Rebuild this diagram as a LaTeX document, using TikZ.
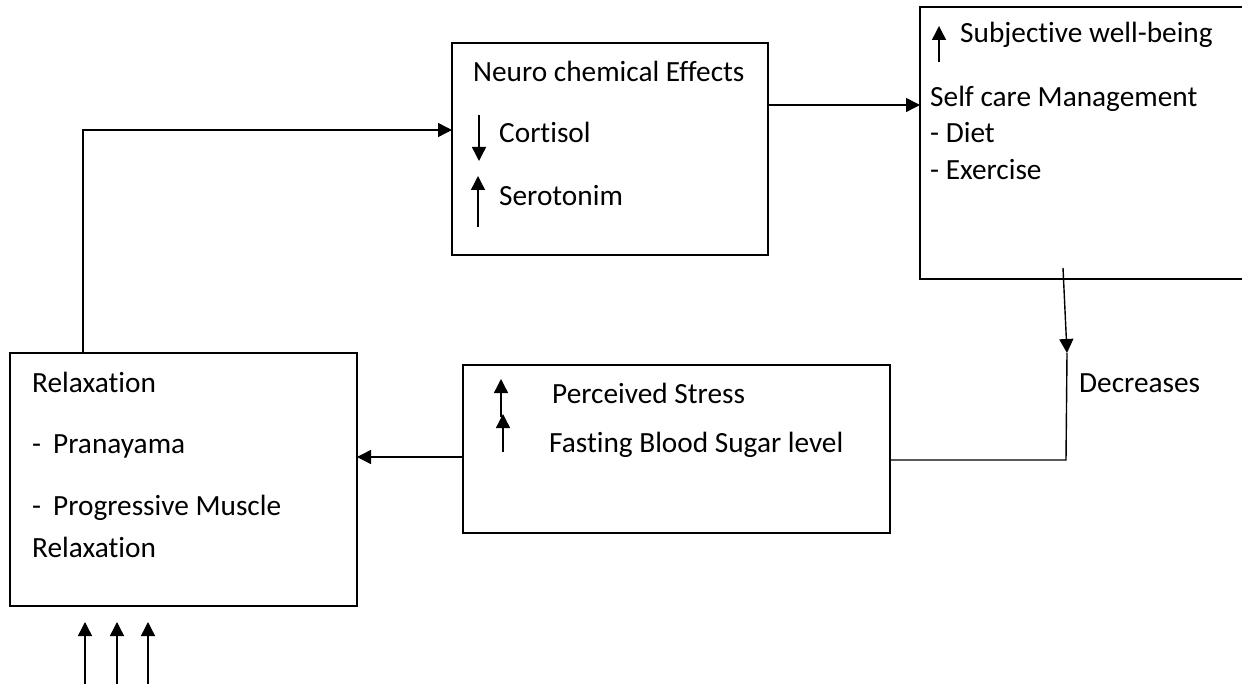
\documentclass[tikz,border=0pt]{standalone}
\usepackage{fontspec}
\setmainfont{Carlito}[Ligatures={NoCommon}]
\usetikzlibrary{arrows.meta}
\begin{document}
\begin{tikzpicture}[x=1pt,y=-1pt,
  box/.style={draw, line width=1.8pt, inner sep=0pt, outer sep=0pt, anchor=north west},
  conn/.style={line width=1.4pt},
  arr/.style={conn, -{Triangle[length=14pt,width=14pt]}},
  lbl/.style={anchor=base west, inner sep=0pt, font=\fontsize{29.3}{35}\selectfont}]
\useasboundingbox (0,0) rectangle (1242,684);

% boxes
\node[box, minimum width=316pt, minimum height=212pt] (neuro) at (452,43) {};
\node[box, minimum width=340pt, minimum height=272pt] (sc) at (920,7) {};
\node[box, minimum width=347pt, minimum height=253pt] (relax) at (10,353) {};
\node[box, minimum width=427pt, minimum height=168pt] (mid) at (463,365) {};

% texts
\node[lbl] (t1) at (473,82) {Neuro chemical Effects};
\node[lbl] (t2) at (499,143) {Cortisol};
\node[lbl] (t3) at (499,206) {Serotonim};
\node[lbl] (t4) at (960,43) {Subjective well-being};
\node[lbl] (t5) at (930,107) {Self care Management};
\node[lbl] (t6) at (930,143) {- Diet};
\node[lbl] (t7) at (930,180) {- Exercise};
\node[lbl] (t8) at (1079,392) {Decreases};
\node[lbl] (t9) at (552,403) {Perceived Stress};
\node[lbl] (t10) at (549,452) {Fasting Blood Sugar level};
\node[lbl] (t11) at (32,392) {Relaxation};
\node[lbl] (t12a) at (32,453) {-};
\node[lbl] (t12) at (53,453) {Pranayama};
\node[lbl] (t13a) at (32,515) {-};
\node[lbl] (t13) at (53,515) {Progressive Muscle};
\node[lbl] (t14) at (32,557) {Relaxation};

% small up/down markers beside the texts
\coordinate (ca0) at (479,115); \coordinate (ca1) at (479,161);
\coordinate (sa0) at (478,227); \coordinate (sa1) at (478,176);
\coordinate (wa0) at (939,62);  \coordinate (wa1) at (939,26);
\coordinate (pa0) at (501,417); \coordinate (pa1) at (501,379);
\coordinate (fa0) at (503,452); \coordinate (fa1) at (503,414);
\draw[arr] (ca0) -- (ca1);
\draw[arr] (sa0) -- (sa1);
\draw[arr] (wa0) -- (wa1);
\draw[arr] (pa0) -- (pa1);
\draw[arr] (fa0) -- (fa1);

% connectors between boxes
\draw[arr] ([xshift=73pt]relax.north west) |- ([yshift=19pt]neuro.west);
\draw[arr] ([yshift=44pt]neuro.east) -- ([yshift=44pt]neuro.east -| sc.west);
\coordinate (d0) at (1063,268);
\coordinate (d1) at (1067,353);
\coordinate (d2) at (1066,460);
\draw[arr] (d0) -- (d1);
\draw[conn] (d1) -- (d2) -- (d2 -| mid.east);
\draw[arr] ([yshift=-8pt]mid.west) -- ([yshift=-8pt]mid.west -| relax.east);

% three arrows below the relaxation box
\coordinate (b1) at (85,684);  \coordinate (b1t) at (85,622);
\coordinate (b2) at (117,684); \coordinate (b2t) at (117,622);
\coordinate (b3) at (148,684); \coordinate (b3t) at (148,622);
\draw[arr] (b1) -- (b1t);
\draw[arr] (b2) -- (b2t);
\draw[arr] (b3) -- (b3t);
\end{tikzpicture}
\end{document}
